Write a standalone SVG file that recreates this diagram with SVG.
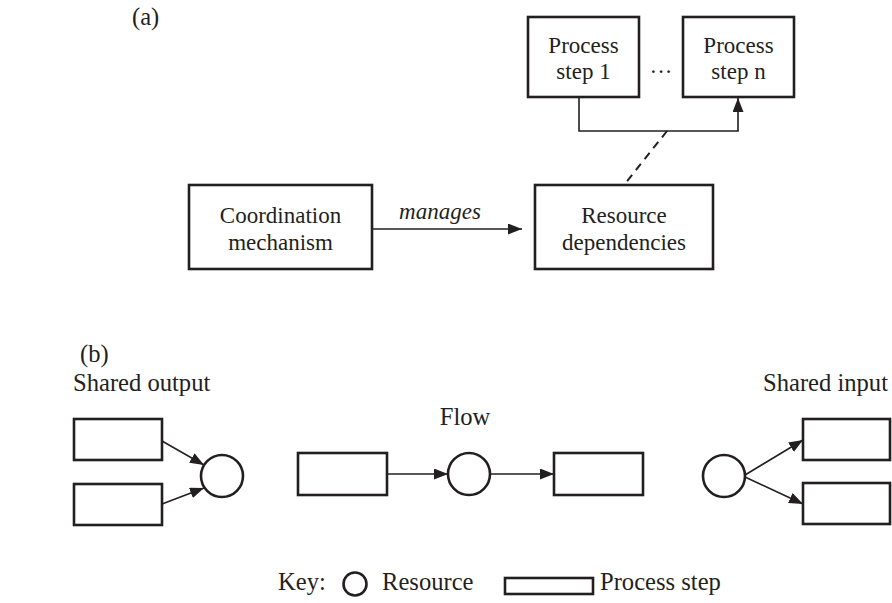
<svg xmlns="http://www.w3.org/2000/svg" width="892" height="603" viewBox="0 0 892 603">
  <style>
    .t { font-size: 23px; fill: #231f20; }
    .h { font-size: 24.6px; fill: #231f20; }
    .mid { text-anchor: middle; }
    .box { fill: #fff; stroke: #231f20; stroke-width: 2.6; }
    .res { fill: #fff; stroke: #231f20; stroke-width: 2.6; }
    .link { fill: none; stroke: #231f20; stroke-width: 1.6; }
    .dash { fill: none; stroke: #231f20; stroke-width: 2; stroke-dasharray: 8 6; }
  </style>
  <defs>
    <marker id="arrow" markerUnits="userSpaceOnUse" markerWidth="15" markerHeight="12" refX="14" refY="5.5" orient="auto">
      <path d="M0,0 L14,5.5 L0,11 Z" fill="#231f20"/>
    </marker>
  </defs>

  <g font-family="Liberation Serif, Times New Roman, serif">
  <!-- panel labels -->
  <text class="h" x="132" y="25">(a)</text>
  <text class="h" x="80" y="362">(b)</text>

  <!-- connectors -->
  <g id="connectors">
    <path class="link" d="M579,97 V131 H738 V98" marker-end="url(#arrow)"/>
    <line class="dash" x1="667" y1="131" x2="624" y2="185"/>
    <line class="link" x1="372" y1="229" x2="522" y2="229" marker-end="url(#arrow)"/>
    <text class="t mid" x="440" y="219" font-style="italic">manages</text>
    <line class="link" x1="162" y1="441" x2="204" y2="465" marker-end="url(#arrow)"/>
    <line class="link" x1="162" y1="504" x2="204" y2="488" marker-end="url(#arrow)"/>
    <line class="link" x1="387" y1="474" x2="448" y2="474" marker-end="url(#arrow)"/>
    <line class="link" x1="490" y1="474" x2="554" y2="474" marker-end="url(#arrow)"/>
    <line class="link" x1="745" y1="475" x2="803" y2="440" marker-end="url(#arrow)"/>
    <line class="link" x1="745" y1="477" x2="803" y2="504" marker-end="url(#arrow)"/>
  </g>

  <!-- (a) -->
  <g id="step1">
    <rect class="box" x="528" y="17" width="111" height="80"/>
    <text class="t mid" x="583.5" y="53">Process</text>
    <text class="t mid" x="583.5" y="79">step 1</text>
  </g>
  <text class="t mid" x="661" y="79">···</text>
  <g id="stepn">
    <rect class="box" x="683" y="17" width="111" height="80"/>
    <text class="t mid" x="738.5" y="53">Process</text>
    <text class="t mid" x="738.5" y="79">step n</text>
  </g>
  <g id="coordination">
    <rect class="box" x="189" y="185" width="183" height="84"/>
    <text class="t mid" x="280.5" y="223">Coordination</text>
    <text class="t mid" x="280.5" y="250">mechanism</text>
  </g>
  <g id="resources">
    <rect class="box" x="535" y="185" width="178" height="84"/>
    <text class="t mid" x="624" y="223">Resource</text>
    <text class="t mid" x="624" y="250">dependencies</text>
  </g>

  <!-- (b) shared output -->
  <text class="h" x="73" y="391">Shared output</text>
  <g id="out-step1"><rect class="box" x="74" y="419" width="88" height="41"/></g>
  <g id="out-step2"><rect class="box" x="74" y="484" width="88" height="41"/></g>
  <g id="out-res"><circle class="res" cx="222" cy="476" r="21"/></g>

  <!-- (b) flow -->
  <text class="h mid" x="465" y="425">Flow</text>
  <g id="flow-step1"><rect class="box" x="298" y="453" width="89" height="42"/></g>
  <g id="flow-res"><circle class="res" cx="469" cy="474" r="21"/></g>
  <g id="flow-step2"><rect class="box" x="554" y="453" width="89" height="42"/></g>

  <!-- (b) shared input -->
  <text class="h" x="763" y="391">Shared input</text>
  <g id="in-res"><circle class="res" cx="724" cy="476" r="21"/></g>
  <g id="in-step1"><rect class="box" x="803" y="419" width="87" height="41"/></g>
  <g id="in-step2"><rect class="box" x="803" y="483" width="87" height="41"/></g>

  <!-- key -->
  <g id="key">
    <text class="h" x="278" y="590">Key:</text>
    <circle class="res" cx="355" cy="584" r="11.5"/>
    <text class="h" x="382" y="590">Resource</text>
    <rect class="box" x="505" y="578" width="88" height="16"/>
    <text class="h" x="600" y="590">Process step</text>
  </g>
  </g>
</svg>
